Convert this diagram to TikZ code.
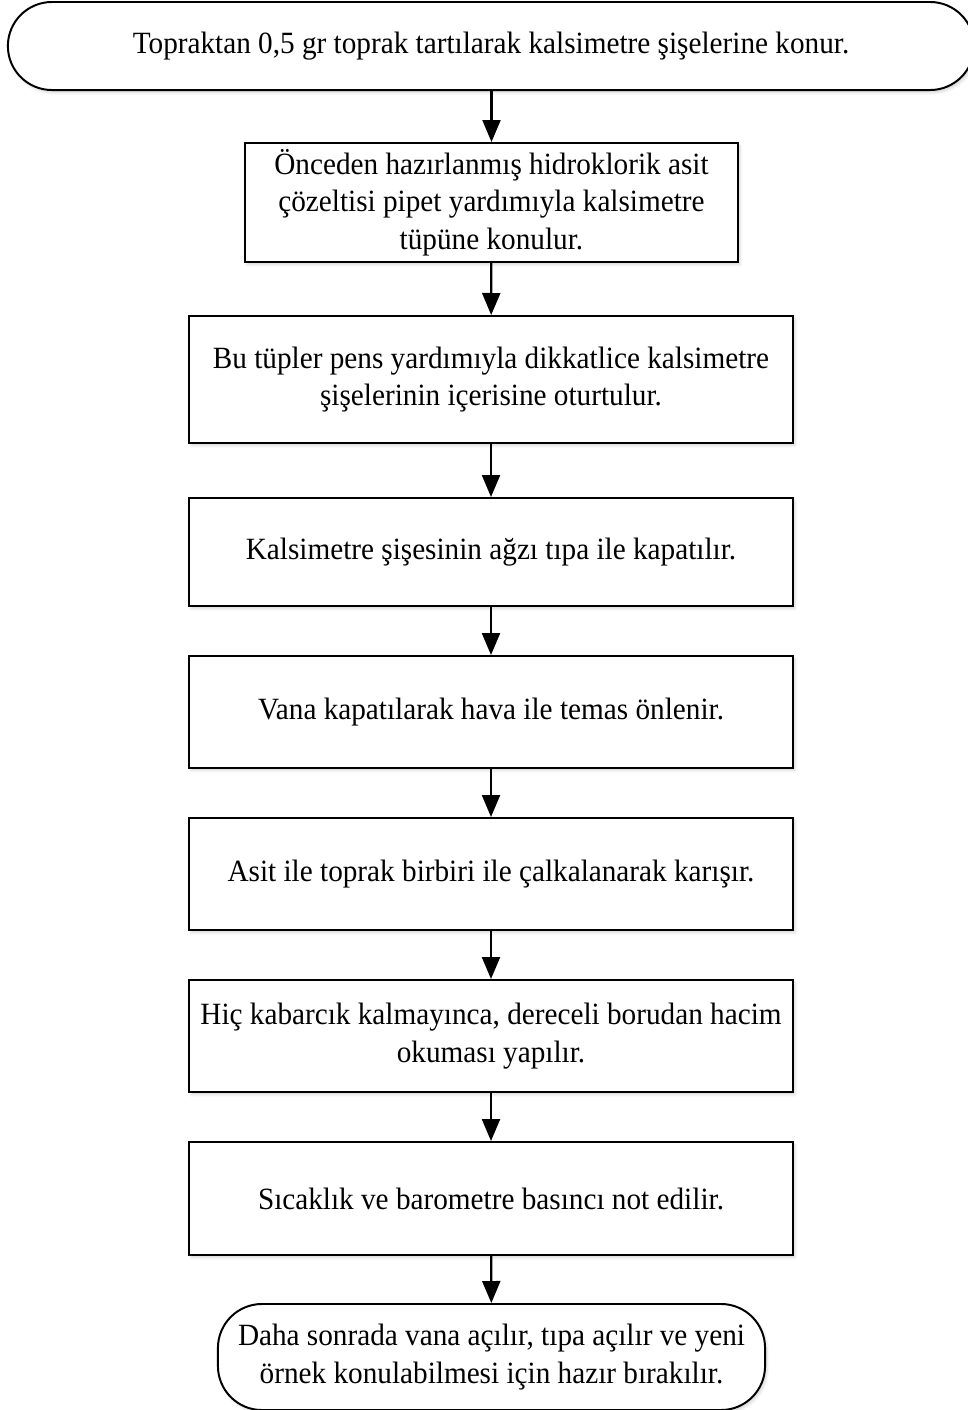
\documentclass[tikz,border=0pt]{standalone}
\usepackage{fontspec}
\setmainfont{Liberation Serif}[FakeStretch=0.945]
\usepackage{tikz}
\usetikzlibrary{arrows.meta, shapes.geometric, shadows.blur}
\definecolor{stepframe}{HTML}{000000}

\begin{document}
\begin{tikzpicture}[
  x=0.025cm, y=-0.025cm,
  font=\fontsize{22}{26.8}\selectfont,
  stepbox/.style={rectangle, minimum width=15.1cm, align=center,
                  draw=stepframe, fill=white, line width=1.4pt,
                  blur shadow={shadow xshift=1.5pt, shadow yshift=-2pt,
                  shadow opacity=15, shadow blur steps=4}},
  termbox/.style={rectangle, rounded corners=1.1cm, align=center,
                  draw=stepframe, fill=white, line width=1.4pt,
                  blur shadow={shadow xshift=1.5pt, shadow yshift=-2pt,
                  shadow opacity=15, shadow blur steps=4}},
  flow/.style={-{Triangle[length=0.55cm, width=0.45cm]}, line width=1.6pt},
]
\useasboundingbox (0,0) rectangle (968,1410);

%% ── Terminals ────────────────────────────────────────────────────────────────
\node[termbox, minimum width=24.15cm, minimum height=2.2cm] (start) at (491,46)
    {Topraktan 0,5 gr toprak tartılarak kalsimetre şişelerine konur.};
\node[termbox, minimum width=13.675cm, minimum height=2.65cm] (finish) at (491.5,1357)
    {Daha sonrada vana açılır, tıpa açılır ve yeni\\
     örnek konulabilmesi için hazır bırakılır.};

%% ── Steps ────────────────────────────────────────────────────────────────────
\node[stepbox, minimum width=12.325cm, minimum height=2.975cm] (acid) at (491.5,202.5)
    {Önceden hazırlanmış hidroklorik asit\\
     çözeltisi pipet yardımıyla kalsimetre\\
     tüpüne konulur.};
\node[stepbox, minimum height=3.175cm] (tubes) at (491,379.5)
    {Bu tüpler pens yardımıyla dikkatlice kalsimetre\\
     şişelerinin içerisine oturtulur.};
\node[stepbox, minimum height=2.7cm]  (plug)  at (491,552)
    {Kalsimetre şişesinin ağzı tıpa ile kapatılır.};
\node[stepbox, minimum height=2.8cm]  (valve) at (491,712)
    {Vana kapatılarak hava ile temas önlenir.};
\node[stepbox, minimum height=2.8cm]  (shake) at (491,874)
    {Asit ile toprak birbiri ile çalkalanarak karışır.};
\node[stepbox, minimum height=2.8cm]  (read)  at (491,1036)
    {Hiç kabarcık kalmayınca, dereceli borudan hacim\\
     okuması yapılır.};
\node[stepbox, minimum height=2.825cm] (note) at (491,1198.5)
    {Sıcaklık ve barometre basıncı not edilir.};

%% ── Arrows ───────────────────────────────────────────────────────────────────
\draw[flow] (start.south -| acid.north) -- (acid.north);
\draw[flow] (acid)  -- (tubes);
\draw[flow] (tubes) -- (plug);
\draw[flow] (plug)  -- (valve);
\draw[flow] (valve) -- (shake);
\draw[flow] (shake) -- (read);
\draw[flow] (read)  -- (note);
\draw[flow] (note)  -- (finish);

\end{tikzpicture}
\end{document}
